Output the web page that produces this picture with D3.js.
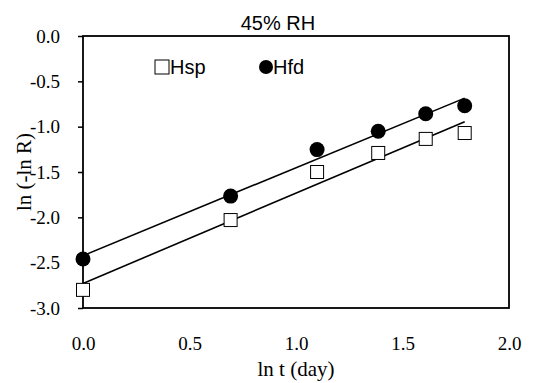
<!DOCTYPE html>
<html>
<head>
<meta charset="utf-8">
<script src="https://cdn.jsdelivr.net/npm/d3@7"></script>
<style>
  body { margin: 0; background: #fff; }
</style>
</head>
<body>
<div id="chart"></div>
<script>
// ln t (day) for t = 1..6 days
const lnT = [0, 0.693, 1.099, 1.386, 1.609, 1.792];
const hsp = [-2.80, -2.03, -1.50, -1.29, -1.135, -1.07];
const hfd = [-2.46, -1.766, -1.253, -1.05, -0.857, -0.77];
const xTicks = [0, 0.5, 1.0, 1.5, 2.0];
const yTicks = [0, -0.5, -1.0, -1.5, -2.0, -2.5, -3.0];

const width = 541, height = 383;
const margin = {top: 36, right: 32, bottom: 75, left: 83};
const visWidth = width - margin.left - margin.right;
const visHeight = height - margin.top - margin.bottom;

const serif = 'Liberation Serif, Times New Roman, serif';
const sans = 'Liberation Sans, Arial, sans-serif';
const fmt = d => d.toFixed(1); // plain hyphen minus, like the original

const svg = d3.select('#chart').append('svg')
  .attr('width', width)
  .attr('height', height);

const g = svg.append('g')
  .attr('transform', `translate(${margin.left}, ${margin.top})`);

const x = d3.scaleLinear().domain([0, 2]).range([0, visWidth]);
const y = d3.scaleLinear().domain([-3, 0]).range([visHeight, 0]);

// title
svg.append('text')
  .attr('x', 278)
  .attr('y', 30)
  .attr('text-anchor', 'middle')
  .attr('font-family', sans)
  .attr('font-size', '20px')
  .text('45% RH');

// axes
g.append('g')
  .call(d3.axisLeft(y).tickValues(yTicks).tickFormat(fmt).tickSize(5).tickPadding(18))
  .call(a => a.select('.domain').remove())
  .call(a => a.selectAll('line').attr('stroke-width', 1.5))
  .call(a => a.selectAll('text')
    .attr('font-family', serif)
    .attr('font-size', '19px'));

g.append('g')
  .attr('transform', `translate(0, ${visHeight})`)
  .call(d3.axisBottom(x).tickValues(xTicks).tickFormat(fmt).tickSize(0).tickPadding(29))
  .call(a => a.select('.domain').remove())
  .call(a => a.selectAll('text')
    .attr('font-family', serif)
    .attr('font-size', '19px'));

// frame
g.append('rect')
  .attr('x', 0).attr('y', 0)
  .attr('width', visWidth).attr('height', visHeight)
  .attr('fill', 'none')
  .attr('stroke', '#000')
  .attr('stroke-width', 1.8);

// axis titles
svg.append('text')
  .attr('x', margin.left + visWidth / 2)
  .attr('y', 376)
  .attr('text-anchor', 'middle')
  .attr('font-family', serif)
  .attr('font-size', '21px')
  .text('ln t (day)');

svg.append('text')
  .attr('transform', `translate(31, ${margin.top + visHeight / 2}) rotate(-90)`)
  .attr('text-anchor', 'middle')
  .attr('font-family', serif)
  .attr('font-size', '21px')
  .text('ln (-ln R)');

// linear trend lines (least squares, like a spreadsheet trendline)
function fit(xs, ys) {
  const mx = d3.mean(xs), my = d3.mean(ys);
  const sxy = d3.sum(xs, (v, i) => (v - mx) * (ys[i] - my));
  const sxx = d3.sum(xs, v => (v - mx) * (v - mx));
  const b = sxy / sxx;
  return v => my + b * (v - mx);
}
const line = d3.line().x(d => x(d[0])).y(d => y(d[1]));
[hfd, hsp].forEach(series => {
  const f = fit(lnT, series);
  const ends = d3.extent(lnT);
  g.append('path')
    .attr('d', line(ends.map(v => [v, f(v)])))
    .attr('fill', 'none')
    .attr('stroke', '#000')
    .attr('stroke-width', 1.6);
});

// markers
const sq = 13;
g.selectAll('.hsp')
  .data(lnT)
  .join('rect')
  .attr('class', 'hsp')
  .attr('x', d => x(d) - sq / 2)
  .attr('y', (d, i) => y(hsp[i]) - sq / 2)
  .attr('width', sq).attr('height', sq)
  .attr('fill', '#fff')
  .attr('stroke', '#000')
  .attr('stroke-width', 1);

g.selectAll('.hfd')
  .data(lnT)
  .join('circle')
  .attr('class', 'hfd')
  .attr('cx', d => x(d))
  .attr('cy', (d, i) => y(hfd[i]))
  .attr('r', 7.5)
  .attr('fill', '#000');

// legend
const legend = svg.append('g')
  .attr('font-family', sans)
  .attr('font-size', '20px');
legend.append('rect')
  .attr('x', 155).attr('y', 60)
  .attr('width', 14).attr('height', 14)
  .attr('fill', '#fff').attr('stroke', '#000');
legend.append('text').attr('x', 170).attr('y', 74).text('Hsp');
legend.append('circle')
  .attr('cx', 266).attr('cy', 67).attr('r', 7)
  .attr('fill', '#000');
legend.append('text').attr('x', 273).attr('y', 74).text('Hfd');
</script>
</body>
</html>
